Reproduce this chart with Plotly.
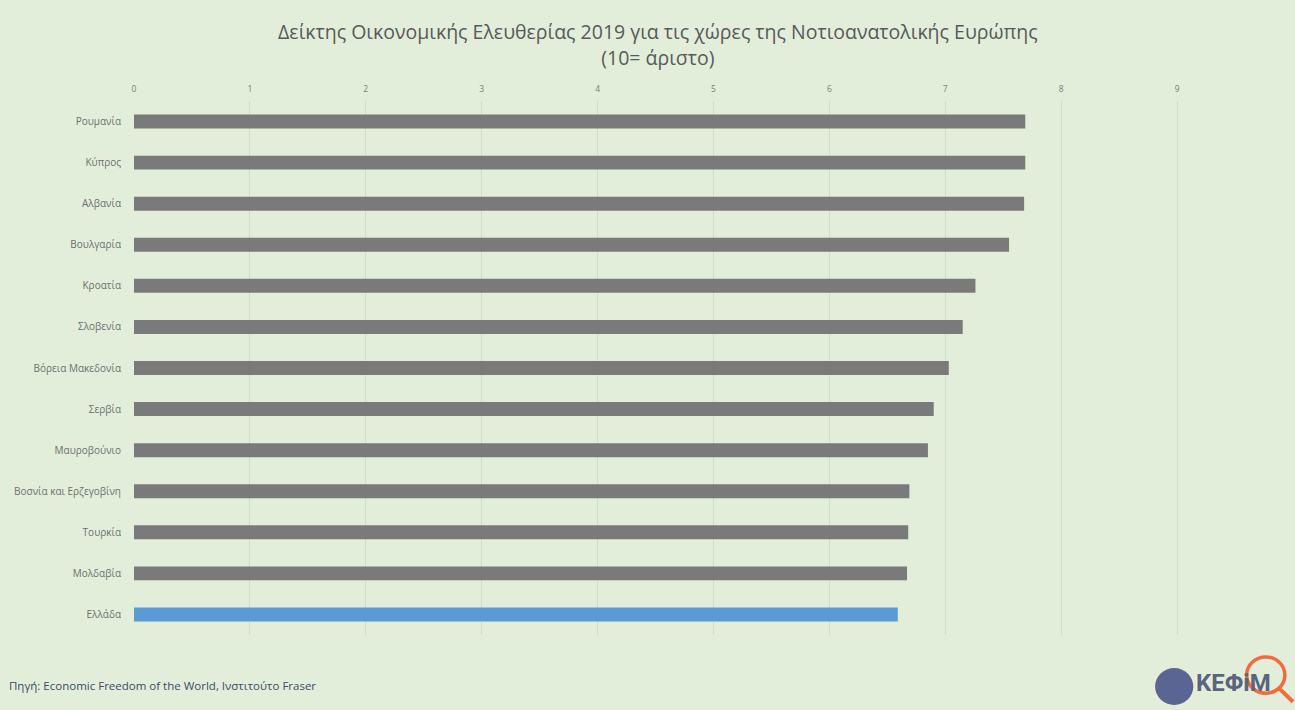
import plotly.graph_objects as go

countries = ["Ρουμανία", "Κύπρος", "Αλβανία", "Βουλγαρία", "Κροατία", "Σλοβενία",
             "Βόρεια Μακεδονία", "Σερβία", "Μαυροβούνιο", "Βοσνία και Ερζεγοβίνη",
             "Τουρκία", "Μολδαβία", "Ελλάδα"]
scores = [7.69, 7.69, 7.68, 7.55, 7.26, 7.15, 7.03, 6.90, 6.85, 6.69, 6.68, 6.67, 6.59]
highlight = "Ελλάδα"
x_ticks = [0, 1, 2, 3, 4, 5, 6, 7, 8, 9, 10]

GREY = "#7a7a7a"
BLUE = "#5b9bd5"
BG = "#e2eed9"

colors = [BLUE if c == highlight else GREY for c in countries]

fig = go.Figure(go.Bar(
    x=scores, y=countries, orientation="h",
    marker=dict(color=colors, line=dict(width=0)),
    width=0.34,
    hoverinfo="x+y",
))

fig.update_layout(
    width=1295, height=710,
    paper_bgcolor=BG, plot_bgcolor=BG,
    margin=dict(l=134, r=2, t=101, b=75),
    showlegend=False,
    font=dict(family="Open Sans, sans-serif", color="#595959"),
    title=dict(
        text="Δείκτης Οικονομικής Ελευθερίας 2019 για τις χώρες της Νοτιοανατολικής Ευρώπης<br>(10= άριστο)",
        x=0.508, xanchor="center", y=0.9445, yanchor="middle",
        font=dict(size=19.5, color="#595959", family="Open Sans, sans-serif"),
    ),
    xaxis=dict(
        side="top", range=[0, 10], tickvals=x_ticks,
        showgrid=True, gridcolor="#d0dec8", gridwidth=1,
        zeroline=False, showline=False,
        tickfont=dict(size=8.5, color="#7a7a7a"),
        ticks="", ticklabelstandoff=6,
    ),
    yaxis=dict(
        autorange="reversed", showgrid=False, zeroline=False, showline=False,
        tickfont=dict(size=10, color="#6f6f6f"), ticks="",
        ticklabelstandoff=12,
    ),
    annotations=[
        dict(text="Πηγή: Economic Freedom of the World, Ινστιτούτο Fraser",
             xref="paper", yref="paper", x=-0.1096, y=-0.0955, xanchor="left", yanchor="middle",
             showarrow=False, font=dict(size=11.5, color="#3a4a6b")),
        dict(text="<b>KEΦiM</b>", xref="paper", yref="paper", x=0.915, y=-0.09,
             xanchor="left", yanchor="middle", showarrow=False,
             font=dict(size=24, color="#5a6480", family="Liberation Sans Narrow, Roboto, sans-serif")),
    ],
    shapes=[
        dict(type="circle", xref="paper", yref="paper",
             x0=0.881, x1=0.914, y0=-0.131, y1=-0.062,
             fillcolor="#5b6593", line=dict(width=0)),
        dict(type="circle", xref="paper", yref="paper",
             x0=0.960, x1=0.993, y0=-0.109, y1=-0.041,
             fillcolor="rgba(0,0,0,0)", line=dict(width=3.5, color="#f26a3d")),
        dict(type="line", xref="paper", yref="paper",
             x0=0.988, x1=1.0, y0=-0.100, y1=-0.125,
             line=dict(width=4, color="#f26a3d")),
    ],
)

fig.write_html("out.html", config={"displayModeBar": False},
               post_script="document.body.style.margin='0';")
